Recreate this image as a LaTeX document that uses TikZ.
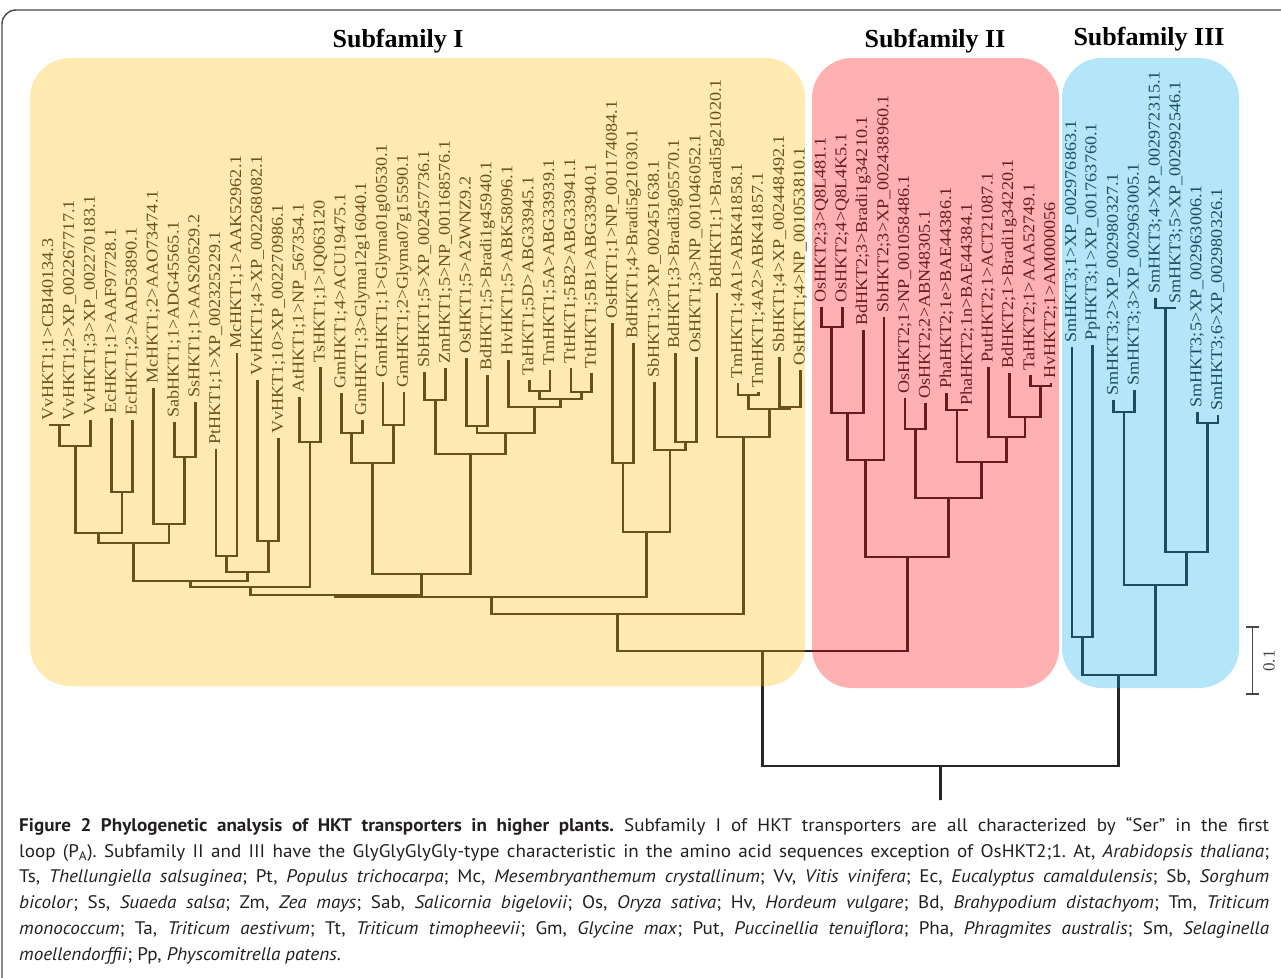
\documentclass[tikz,border=0pt]{standalone}
\usepackage{fontspec}
\setmainfont{Liberation Serif}
\newfontfamily\capsans{PT Sans}[FakeStretch=1.05]
\newfontfamily\labserif{Liberation Serif}[FakeStretch=1.1]
\usetikzlibrary{calc,arrows.meta}

\definecolor{fillone}{RGB}{255,188,0}
\definecolor{filltwo}{RGB}{255,0,0}
\definecolor{fillthree}{RGB}{0,172,232}
\definecolor{treeline}{RGB}{38,38,38}
\definecolor{captext}{RGB}{35,31,32}
\definecolor{framecol}{RGB}{70,70,70}

% a tip of the tree with its rotated name
\newcommand\leaf[4]{%
  \coordinate (#1) at (#2,#3);
  \node[leaflab] (#1l) at (#2,#3-2) {#4};}
% a fork: name, left child, right child, height
\newcommand\clade[4]{%
  \path let \p1=($(#2)!.5!(#3)$) in coordinate (#1) at (\x1,-#4pt);
  \draw (#2) |- (#1) -| (#3);}

\begin{document}
\begin{tikzpicture}[x=1pt, y=-1pt,
  leaflab/.style={rotate=90, anchor=west, inner sep=1pt,
    font=\labserif\fontsize{16.5}{16.5}\selectfont},
  famtitle/.style={font=\bfseries\fontsize{26}{26}\selectfont},
  famboxone/.style={fill=fillone, fill opacity=0.3, rounded corners=40pt},
  famboxtwo/.style={fill=filltwo, fill opacity=0.31, rounded corners=40pt},
  famboxthree/.style={fill=fillthree, fill opacity=0.3, rounded corners=40pt}]
\useasboundingbox (0,0) rectangle (1281,977);
\draw[framecol, line width=1.4pt, rounded corners=14pt] (2,10) rectangle (1330,1030);

\begin{scope}[color=treeline, line width=2.8pt]
% Subfamily I
\leaf{a1}{49}{425}{VvHKT1;1>CBI40134.3}
\leaf{a2}{69.9}{425}{VvHKT1;2>XP\_002267717.1}
\leaf{a3}{90.75}{420}{VvHKT1;3>XP\_002270183.1}
\leaf{a4}{111.6}{418}{EcHKT1;1>AAF97728.1}
\leaf{a5}{132.5}{420}{EcHKT1;2>AAD53890.1}
\leaf{a6}{153.4}{388}{McHKT1;2>AAO73474.1}
\leaf{a7}{174.25}{422}{SabHKT1;1>ADG45565.1}
\leaf{a8}{195.1}{402}{SsHKT1;1>AAS20529.2}
\leaf{a9}{216}{449}{PtHKT1;1>XP\_002325229.1}
\leaf{a10}{236.9}{353}{McHKT1;1>AAK52962.1}
\leaf{a11}{257.75}{380}{VvHKT1;4>XP\_002268082.1}
\leaf{a12}{278.6}{438}{VvHKT1;10>XP\_002270986.1}
\leaf{a13}{299.5}{397}{AtHKT1;1>NP\_567354.1}
\leaf{a14}{320.4}{367}{TsHKT1;1>JQ063120}
\leaf{a15}{341.25}{393}{GmHKT1;4>ACU19475.1}
\leaf{a16}{362.1}{420}{GmHKT1;3>Glyma12g16040.1}
\leaf{a17}{383}{382}{GmHKT1;1>Glyma01g00530.1}
\leaf{a18}{403.9}{392}{GmHKT1;2>Glyma07g15590.1}
\leaf{a19}{424.75}{372}{SbHKT1;5>XP\_002457736.1}
\leaf{a20}{445.6}{368}{ZmHKT1;5>NP\_001168576.1}
\leaf{a21}{466.5}{358}{OsHKT1;5>A2WNZ9.2}
\leaf{a22}{487.4}{375}{BdHKT1;5>Bradi1g45940.1}
\leaf{a23}{508.25}{360}{HvHKT1;5>ABK58096.1}
\leaf{a24}{529.1}{380}{TaHKT1;5D>ABG33945.1}
\leaf{a25}{550}{370}{TmHKT1;5A>ABG33939.1}
\leaf{a26}{570.9}{368}{TtHKT1;5B2>ABG33941.1}
\leaf{a27}{591.75}{373}{TtHKT1;5B1>ABG33940.1}
\leaf{a28}{612.6}{323}{OsHKT1;1>NP\_001174084.1}
\leaf{a29}{633.5}{343}{BdHKT1;4>Bradi5g21030.1}
\leaf{a30}{654.4}{382}{SbHKT1;3>XP\_002451638.1}
\leaf{a31}{675.25}{353}{BdHKT1;3>Bradi3g05570.1}
\leaf{a32}{696.1}{357}{OsHKT1;3>NP\_001046052.1}
\leaf{a33}{717}{293}{BdHKT1;1>Bradi5g21020.1}
\leaf{a34}{737.9}{383}{TmHKT1;4A1>ABK41858.1}
\leaf{a35}{758.75}{392}{TmHKT1;4A2>ABK41857.1}
\leaf{a36}{779.6}{357}{SbHKT1;4>XP\_002448492.1}
\leaf{a37}{800.5}{370}{OsHKT1;4>NP\_001053810.1}
\clade{b1}{a1}{a2}{425}
\clade{b2}{b1}{a3}{446}
\clade{b3}{a4}{a5}{492}
\clade{b4}{b2}{b3}{533}
\clade{b5}{a7}{a8}{457}
\clade{b6}{a6}{b5}{524}
\clade{b7}{b4}{b6}{543}
\clade{b8}{a9}{a10}{556}
\clade{b9}{a11}{a12}{541}
\clade{b10}{b8}{b9}{572}
\clade{b11}{b7}{b10}{581}
\clade{b12}{a13}{a14}{442}
\clade{b13}{b11}{b12}{587}
\clade{b14}{a15}{a16}{433}
\clade{b15}{a17}{a18}{425}
\clade{b16}{b14}{b15}{463}
\clade{b18}{a19}{a20}{400}
\clade{b21}{a21}{a22}{426}
\clade{b23a}{a24}{a25}{391}
\clade{b23b}{a26}{a27}{392}
\clade{b23}{b23a}{b23b}{399}
\clade{b22}{a23}{b23}{407}
\clade{b20}{b21}{b22}{433}
\clade{b19}{b18}{b20}{454}
\clade{b17}{b16}{b19}{574}
\clade{b24}{b13}{b17}{595}
\clade{c1}{a28}{a29}{463}
\clade{c2}{a31}{a32}{442}
\clade{c3}{a30}{c2}{450}
\clade{c4}{c1}{c3}{532}
\clade{b25}{b24}{c4}{597}
\clade{d1}{a34}{a35}{395}
\clade{d2}{a36}{a37}{407}
\clade{d3}{d1}{d2}{409}
\clade{d4}{a33}{d3}{437}
\clade{fam1}{b25}{d4}{614}
% Subfamily II
\leaf{a38}{821.4}{307}{OsHKT2;3>Q8L481.1}
\leaf{a39}{842.25}{307}{OsHKT2;4>Q8L4K5.1}
\leaf{a40}{863.1}{330}{BdHKT2;3>Bradi1g34210.1}
\leaf{a41}{884}{317}{SbHKT2;3>XP\_002438960.1}
\leaf{a42}{904.9}{398}{OsHKT2;1>NP\_001058486.1}
\leaf{a43}{925.75}{403}{OsHKT2;2>ABN48305.1}
\leaf{a44}{946.6}{393}{PhaHKT2;1e>BAE44386.1}
\leaf{a45}{967.5}{410}{PhaHKT2;1n>BAE44384.1}
\leaf{a46}{988.4}{367}{PutHKT2;1>ACT21087.1}
\leaf{a47}{1009.25}{373}{BdHKT2;1>Bradi1g34220.1}
\leaf{a48}{1030.1}{375}{TaHKT2;1>AAA52749.1}
\leaf{a49}{1051}{383}{HvHKT2;1>AM000056}
\clade{e1}{a38}{a39}{327}
\clade{e2}{e1}{a40}{413}
\clade{e3}{e2}{a41}{460}
\clade{e4}{a42}{a43}{429}
\clade{e5}{a44}{a45}{410}
\clade{e6}{a48}{a49}{386}
\clade{e7}{a47}{e6}{417}
\clade{e8}{a46}{e7}{437}
\clade{e9}{e5}{e8}{462}
\clade{e10}{e4}{e9}{498}
\clade{fam2}{e3}{e10}{557}
% Subfamily III
\leaf{a50}{1071.9}{347}{SmHKT3;1>XP\_002976863.1}
\leaf{a51}{1092.75}{345}{PpHKT3;1>XP\_001763760.1}
\leaf{a52}{1113.6}{400}{SmHKT3;2>XP\_002980327.1}
\leaf{a53}{1134.5}{390}{SmHKT3;3>XP\_002963005.1}
\leaf{a54}{1155.4}{298}{SmHKT3;4>XP\_002972315.1}
\leaf{a55}{1176.25}{308}{SmHKT3;5>XP\_002992546.1}
\leaf{a56}{1197.1}{412}{SmHKT3;5>XP\_002963006.1}
\leaf{a57}{1218}{415}{SmHKT3;6>XP\_002980326.1}
\clade{f1}{a50}{a51}{637}
\clade{f2}{a52}{a53}{412}
\clade{f3}{a54}{a55}{308}
\clade{f4}{a56}{a57}{423}
\clade{f5}{f3}{f4}{552}
\clade{f6}{f2}{f5}{585}
\clade{fam3}{f1}{f6}{675}
% root
\clade{g1}{fam1}{fam2}{651}
\clade{top}{g1}{fam3}{766}
\coordinate (base) at (940.5,800);
\draw (top) -- (base);
\end{scope}

% coloured subfamily boxes laid over the tree
\path[famboxone] (30,58) rectangle (805,686);
\path[famboxtwo] (812,58) rectangle (1059,688);
\path[famboxthree] (1062,58) rectangle (1239,688);

\node[famtitle] (tI) at (398,41) {Subfamily I};
\node[famtitle] (tII) at (935,41) {Subfamily II};
\node[famtitle] (tIII) at (1149,39) {Subfamily III};

% scale bar
\coordinate (sbtop) at (1252.5,626);
\coordinate (sbbot) at (1252.5,695);
\draw[framecol, line width=1.6pt, {Bar[width=13pt]}-{Bar[width=13pt]}] (sbtop) -- (sbbot);
\node[rotate=90, font=\fontsize{17}{17}\selectfont, text=framecol] (sblab) at (1269,661) {0.1};

\node[anchor=north west, inner sep=0pt, text width=1250pt, align=justify, text=captext,
  font=\capsans\fontsize{18.2}{25.8}\selectfont] (cap) at (19,817)
{\frenchspacing\hyphenpenalty=10000\textbf{Figure 2 Phylogenetic analysis of HKT transporters in higher plants.} Subfamily I of HKT transporters are all characterized by “Ser” in the first\linebreak
loop (P\textsubscript{A}). Subfamily II and III have the GlyGlyGlyGly-type characteristic in the amino acid sequences exception of OsHKT2;1. At, \textit{Arabidopsis thaliana};\linebreak
Ts, \textit{Thellungiella salsuginea}; Pt, \textit{Populus trichocarpa}; Mc, \textit{Mesembryanthemum crystallinum}; Vv, \textit{Vitis vinifera}; Ec, \textit{Eucalyptus camaldulensis}; Sb, \textit{Sorghum}\linebreak
\textit{bicolor}; Ss, \textit{Suaeda salsa}; Zm, \textit{Zea mays}; Sab, \textit{Salicornia bigelovii}; Os, \textit{Oryza sativa}; Hv, \textit{Hordeum vulgare}; Bd, \textit{Brahypodium distachyom}; Tm, \textit{Triticum}\linebreak
\textit{monococcum}; Ta, \textit{Triticum aestivum}; Tt, \textit{Triticum timopheevii}; Gm, \textit{Glycine max}; Put, \textit{Puccinellia tenuiflora}; Pha, \textit{Phragmites australis}; Sm, \textit{Selaginella}\linebreak
\textit{moellendorffii}; Pp, \textit{Physcomitrella patens}.};
\end{tikzpicture}
\end{document}
